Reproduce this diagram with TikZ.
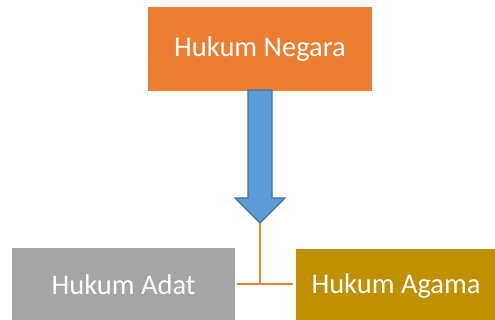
\documentclass[tikz,border=0pt]{standalone}
\usepackage{fontspec}
\setmainfont{Carlito}
\definecolor{boxorange}{HTML}{ED7D31}
\definecolor{arrowblue}{HTML}{5B9BD5}
\definecolor{arrowedge}{HTML}{41719C}
\definecolor{boxgrey}{HTML}{A5A5A5}
\definecolor{boxgold}{HTML}{BF9000}
\begin{document}
\begin{tikzpicture}[x=1pt,y=-1pt,
  box/.style={rectangle, inner sep=0pt, text=white,
    font=\fontsize{28.5}{32}\selectfont},
  link/.style={draw=boxorange, line width=2.4pt}]
\useasboundingbox (0,0) rectangle (495,320);
\clip (0,0) rectangle (495,320);
% boxes
\node[box, fill=boxorange, minimum width=224pt, minimum height=84pt] (negara) at (260,49) {Hukum Negara};
\node[box, fill=boxgrey, minimum width=223pt, minimum height=74pt] (adat) at (123.5,285) {Hukum Adat};
\node[box, fill=boxgold, minimum width=200pt, minimum height=74pt] (agama) at (396,286) {Hukum Agama};
% block arrow below the top box
\coordinate (tip) at (260,223);
\draw[fill=arrowblue, draw=arrowedge, line width=1.2pt, line join=miter]
  (248,90) -- (272,90) -- (272,198) -- (285,198) -- (tip) -- (235,198) -- (248,198) -- cycle;
% connector to the two lower boxes
\coordinate (junction) at (260,284);
\draw[link] (tip) -- (junction);
\draw[link] ([xshift=2pt]adat.east |- junction) -- ([xshift=-3pt]agama.west |- junction);
\end{tikzpicture}
\end{document}
